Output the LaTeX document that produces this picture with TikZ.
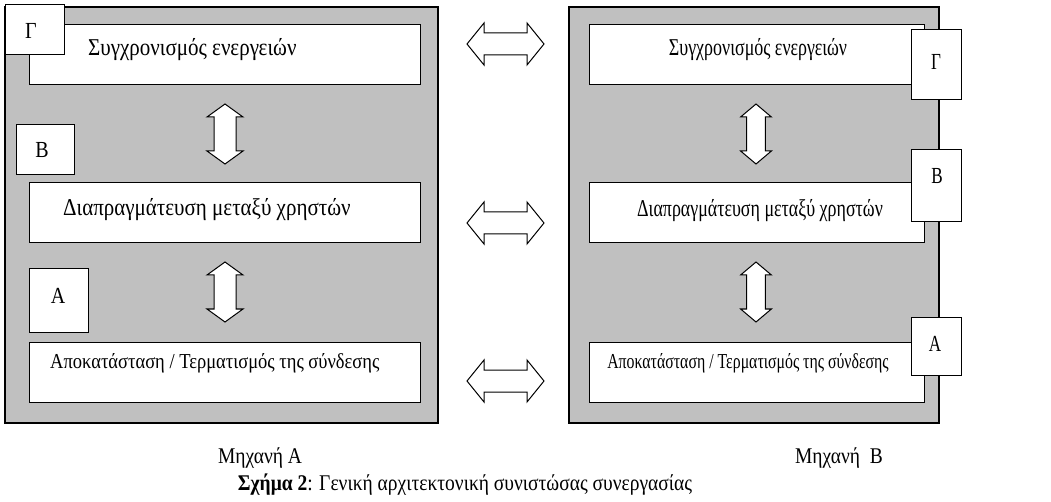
\documentclass[tikz,border=0pt]{standalone}
\usepackage{fontspec}
\setmainfont{Liberation Serif}
\definecolor{boxgray}{RGB}{192,192,192}
\newcommand{\tallt}[1]{\scalebox{1}[1.15]{#1}}
\newcommand{\narrowt}[1]{\scalebox{0.855}[1.15]{#1}}
\begin{document}
\begin{tikzpicture}[x=1pt,y=-1pt,
  outer/.style={draw, line width=1.3pt, fill=boxgray},
  layer/.style={draw, line width=1pt, fill=white},
  tag/.style={draw, line width=1pt, fill=white},
  lbl/.style={inner sep=0pt, font=\fontsize{21}{21}\selectfont},
  slbl/.style={inner sep=0pt, font=\fontsize{18.5}{18.5}\selectfont},
  letter/.style={inner sep=0pt, font=\fontsize{20}{20}\selectfont},
  captext/.style={inner sep=0pt, font=\fontsize{19.5}{19.5}\selectfont},
  harrow/.pic={\draw[line width=1pt, fill=white] (-38.5,0) -- (-21.5,-21) -- (-21.5,-11) -- (21.5,-11) -- (21.5,-21) -- (38.5,0) -- (21.5,21) -- (21.5,11) -- (-21.5,11) -- (-21.5,21) -- cycle;},
  varrow/.pic={\draw[line width=1pt, fill=white] (0,-30) -- (18,-17) -- (11,-17) -- (11,17) -- (18,17) -- (0,30) -- (-18,17) -- (-11,17) -- (-11,-17) -- (-18,-17) -- cycle;},
]
\useasboundingbox (0,0) rectangle (1051,502);
% left machine
\draw[outer] (5,7) rectangle (438,423);
\draw[layer] (29,25) rectangle (420,85);
\draw[layer] (29,183) rectangle (420,243);
\draw[layer] (29,342) rectangle (420,402);
\node[lbl, anchor=west] (lt) at (88,50) {\tallt{Συγχρονισμός ενεργειών}};
\node[lbl, anchor=west] (lm) at (63,210) {\tallt{Διαπραγμάτευση μεταξύ χρηστών}};
\node[slbl, anchor=west] (lb) at (50,363) {\tallt{Αποκατάσταση / Τερματισμός της σύνδεσης}};
\draw[tag] (5,5) rectangle (64,55);
\draw[tag] (16,125) rectangle (74,175);
\draw[tag] (29,269) rectangle (88,332);
\node[letter] (lG) at (31,31) {\tallt{Γ}};
\node[letter] (lB) at (42,150) {\tallt{Β}};
\node[letter] (lA) at (58,296) {\tallt{Α}};
\pic at (225,134) {varrow};
\pic at (225,292) {varrow};
% right machine
\draw[outer] (569,7) rectangle (939,423);
\draw[layer] (589,25) rectangle (924,85);
\draw[layer] (589,183) rectangle (924,243);
\draw[layer] (589,342) rectangle (924,402);
\node[lbl] (rt) at (758,50) {\narrowt{Συγχρονισμός ενεργειών}};
\node[lbl] (rm) at (760,211) {\narrowt{Διαπραγμάτευση μεταξύ χρηστών}};
\node[slbl] (rb) at (748,363) {\narrowt{Αποκατάσταση / Τερματισμός της σύνδεσης}};
\draw[tag] (911,30) rectangle (961,100);
\draw[tag] (911,150) rectangle (961,222);
\draw[tag] (911,317) rectangle (961,375);
\node[letter] (rG) at (936,62) {\narrowt{Γ}};
\node[letter] (rB) at (937,176) {\narrowt{Β}};
\node[letter] (rA) at (935,344) {\narrowt{Α}};
\pic[xscale=0.855] at (756,134) {varrow};
\pic[xscale=0.855] at (756,292) {varrow};
% between machines
\pic at (505.5,44) {harrow};
\pic at (505.5,223) {harrow};
\pic at (505.5,381) {harrow};
% captions
\node[captext] (ca) at (260,458) {\tallt{Μηχανή Α}};
\node[captext] (cb) at (839,458) {\tallt{Μηχανή \ Β}};
\node[captext] (cc) at (465,485) {\tallt{\textbf{Σχήμα 2}: Γενική αρχιτεκτονική συνιστώσας συνεργασίας}};
\end{tikzpicture}
\end{document}
